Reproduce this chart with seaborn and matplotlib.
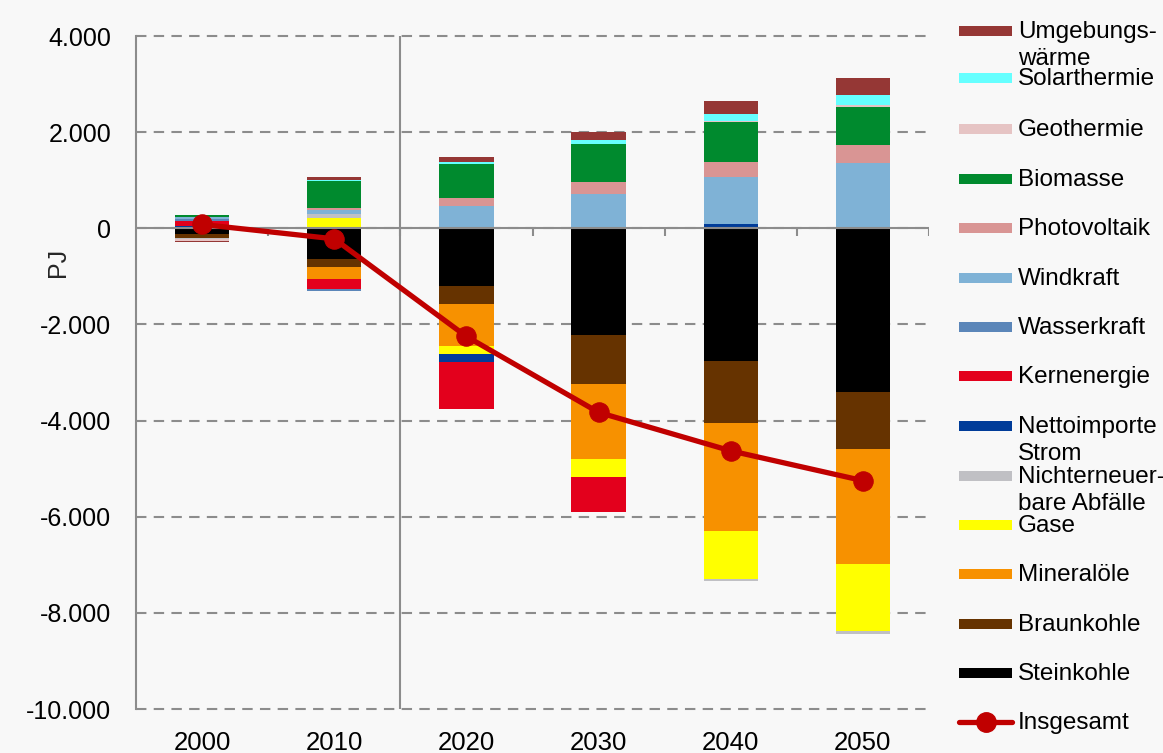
import numpy as np
import matplotlib
matplotlib.use("Agg")
import matplotlib.pyplot as plt
from matplotlib.lines import Line2D
from matplotlib.patches import Rectangle
from matplotlib.ticker import FuncFormatter, FixedLocator
import seaborn as sns

# ---------------- data ----------------
years = ["2000", "2010", "2020", "2030", "2040", "2050"]

steinkohle   = [-110, -640, -1200, -2220, -2760, -3410]
braunkohle   = [-90, -175, -380, -1010, -1295, -1175]
mineraloele  = [0, -245, -870, -1575, -2235, -2400]
gase         = [0, 220, -175, -370, -1005, -1390]
abfaelle     = [-30, 80, 0, 0, -45, -55]
nettoimporte = [40, 0, -165, 0, 85, 0]
kernenergie  = [120, -210, -960, -720, 0, 0]
wasserkraft  = [30, -30, 0, 0, 0, 0]
windkraft    = [45, 90, 470, 720, 990, 1350]
photovoltaik = [10, 40, 165, 250, 305, 375]
biomasse     = [40, 560, 710, 790, 825, 790]
geothermie   = [-30, 0, 0, 0, 35, 45]
solarthermie = [0, 20, 40, 75, 140, 220]
umgebung     = [-20, 50, 100, 175, 275, 355]
insgesamt    = [80, -220, -2250, -3830, -4630, -5250]

series_names = ["Steinkohle", "Braunkohle", "Mineralöle", "Gase",
                "Nichterneuer-\nbare Abfälle", "Nettoimporte\nStrom", "Kernenergie",
                "Wasserkraft", "Windkraft", "Photovoltaik", "Biomasse",
                "Geothermie", "Solarthermie", "Umgebungs-\nwärme"]
series_vals = [steinkohle, braunkohle, mineraloele, gase, abfaelle, nettoimporte,
               kernenergie, wasserkraft, windkraft, photovoltaik, biomasse,
               geothermie, solarthermie, umgebung]
series_colors = ["#000000", "#663300", "#f79100", "#ffff00", "#c0c0c4", "#003c99",
                 "#e3001c", "#5b86b9", "#7fb2d6", "#d99594", "#008a2e",
                 "#e6c4c4", "#66ffff", "#953735"]
line_color = "#c00000"
bg = "#f8f8f8"

# ---------------- style ----------------
sns.set_style("white")
plt.rcParams["font.family"] = ["Liberation Sans", "DejaVu Sans"]

W, H = 1163, 753
fig = plt.figure(figsize=(W / 100, H / 100), dpi=100, facecolor=bg)
ax = fig.add_axes([136 / W, 1 - 709 / H, (929 - 136) / W, (709 - 36) / H])
ax.set_facecolor(bg)

# ---------------- stacked bars ----------------
pos_base = np.zeros(len(years))
neg_base = np.zeros(len(years))
for vals, col in zip(series_vals, series_colors):
    v = np.asarray(vals, dtype=float)
    bottom = np.where(v >= 0, pos_base, neg_base)
    sns.barplot(x=years, y=v, bottom=bottom, color=col, width=0.41,
                saturation=1, errorbar=None, edgecolor="none", linewidth=0,
                ax=ax, zorder=3)
    pos_base = pos_base + np.where(v > 0, v, 0)
    neg_base = neg_base + np.where(v < 0, v, 0)

# total line
sns.lineplot(x=np.arange(len(years)), y=insgesamt, color=line_color, linewidth=3.8,
             marker="o", markersize=14, markeredgecolor=line_color, ax=ax,
             zorder=5, legend=False)

# ---------------- axes ----------------
ax.set_xlim(-0.5, len(years) - 0.5)
ax.set_ylim(-10000, 4000)
ax.yaxis.set_major_locator(FixedLocator(np.arange(-10000, 4001, 2000)))
ax.yaxis.set_major_formatter(FuncFormatter(lambda v, p: f"{int(v):,}".replace(",", ".")))
ax.yaxis.grid(True, linestyle=(0, (5, 3.5)), color="#8c8c8c", linewidth=1.5, zorder=0)
ax.xaxis.grid(False)
for g in ax.yaxis.get_gridlines():
    g.set_clip_on(False)

for s in ["top", "right", "bottom"]:
    ax.spines[s].set_visible(False)
ax.spines["left"].set_color("#8c8c8c")
ax.spines["left"].set_linewidth(1.5)

ax.tick_params(axis="y", direction="out", length=7, width=1.5, color="#8c8c8c",
               pad=11, labelsize=18, labelcolor="black")
ax.tick_params(axis="x", length=0, pad=16, labelsize=18.5, labelcolor="black")
ax.set_xlabel("")
ax.set_ylabel("PJ", fontsize=18)
ax.yaxis.set_label_coords(-0.083, 0.664)

# zero line with category-boundary ticks, and vertical separator
ax.axhline(0, color="#8c8c8c", linewidth=1.5, zorder=4)
bounds = np.arange(len(years) + 1) - 0.5
ax.vlines(bounds[1:], -160, 0, color="#8c8c8c", linewidth=1.5, zorder=4)
ax.axvline(1.5, color="#8c8c8c", linewidth=1.5, zorder=1)

# ---------------- legend (manual, figure coordinates) ----------------
legend_y = [31, 78, 129, 179, 228, 278, 327, 376, 426, 476, 525, 574, 624, 673, 722]
leg_items = list(zip(series_names[::-1], series_colors[::-1]))
hx0, hx1, tx = 959, 1012, 1018
for (name, col), yc in zip(leg_items, legend_y):
    fig.add_artist(Rectangle((hx0 / W, 1 - (yc + 5) / H), (hx1 - hx0) / W, 10 / H,
                             transform=fig.transFigure, facecolor=col, edgecolor="none"))
    lines = name.split("\n")
    for k, ln in enumerate(lines):
        fig.text(tx / W, 1 - (yc + 1 + 27 * k) / H, ln, fontsize=17.5, va="center",
                 ha="left", color="black")
yc = legend_y[-1]
fig.add_artist(Line2D([hx0 / W, hx1 / W], [1 - yc / H, 1 - yc / H], transform=fig.transFigure,
                      color=line_color, linewidth=3.8))
fig.add_artist(Line2D([(hx0 + hx1) / 2 / W], [1 - yc / H], transform=fig.transFigure,
                      color=line_color, marker="o", markersize=14, linestyle="none"))
fig.text(tx / W, 1 - (yc + 1) / H, "Insgesamt", fontsize=17.5, va="center", ha="left",
         color="black")

fig.savefig("out.png", dpi=100, facecolor=bg)
